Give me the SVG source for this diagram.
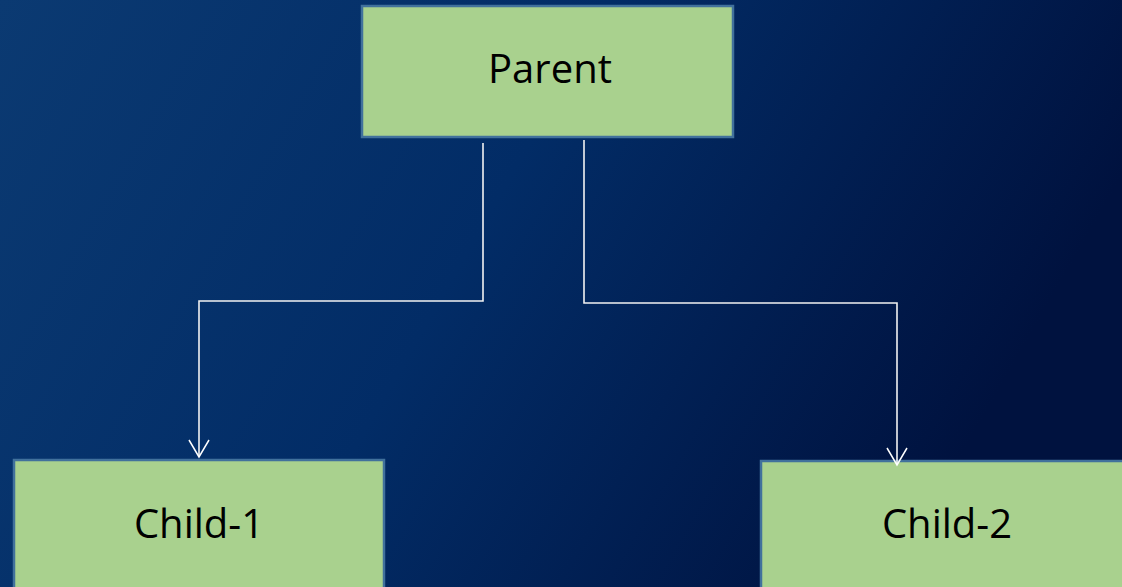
<svg xmlns="http://www.w3.org/2000/svg" width="1122" height="587" viewBox="0 0 1122 587">
  <defs>
    <linearGradient id="bg" x1="0" y1="0" x2="1" y2="0.3">
      <stop offset="0" stop-color="#0b3a72"/>
      <stop offset="0.5" stop-color="#022c66"/>
      <stop offset="1" stop-color="#00123f"/>
    </linearGradient>
    <marker id="arrow" markerWidth="24" markerHeight="24" refX="18" refY="11" orient="auto" markerUnits="userSpaceOnUse" viewBox="0 0 24 24">
      <path d="M1,1 L18,11 L1,21" fill="none" stroke="#ffffff" stroke-width="1.5"/>
    </marker>
    <style>
      .node rect { fill: #a9d18e; stroke: #41719c; stroke-width: 2.5; }
      .node text { font-family: "Open Sans", "Liberation Sans", sans-serif; font-size: 40px; fill: #000000; text-anchor: middle; }
      .conn { fill: none; stroke: #f2f2f2; stroke-width: 1.6; }
    </style>
  </defs>
  <rect x="0" y="0" width="1122" height="587" fill="url(#bg)"/>
  <g id="parent" class="node">
    <rect x="362" y="6" width="371" height="131"/>
    <text x="550" y="83">Parent</text>
  </g>
  <g id="child1" class="node">
    <rect x="14" y="460" width="370" height="140"/>
    <text x="199" y="538">Child-1</text>
  </g>
  <g id="child2" class="node">
    <rect x="761" y="461" width="380" height="140"/>
    <text x="947" y="538">Child-2</text>
  </g>
  <g id="connectors">
    <path class="conn" d="M483,143 V301 H199 V457" marker-end="url(#arrow)"/>
    <path class="conn" d="M584,140 V303 H897 V465" marker-end="url(#arrow)"/>
  </g>
</svg>
